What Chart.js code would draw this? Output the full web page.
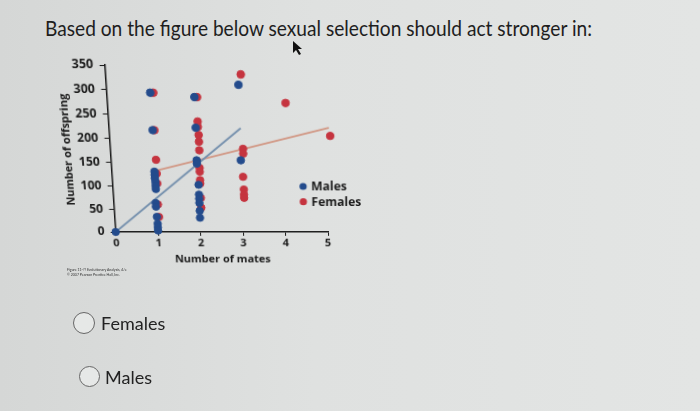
<!DOCTYPE html>
<html>
<head>
<meta charset="utf-8">
<script src="https://cdn.jsdelivr.net/npm/chart.js@4"></script>
<style>
  html, body { margin: 0; padding: 0; }
  body {
    width: 700px; height: 411px; overflow: hidden; position: relative;
    background: linear-gradient(90deg, #d5d7d6 0%, #dfe1e0 45%, #e3e5e4 100%);
    font-family: Lato, "Open Sans", sans-serif;
  }
  #question {
    position: absolute; left: 45px; top: 14px; font-size: 22px; color: #1e1e1e;
    white-space: nowrap; transform-origin: 0 0; transform: scaleX(0.87);
  }
  #matesChart { position: absolute; left: 40px; top: 50px; transform-origin: 0 0; }
  .caption { position: absolute; left: 67px; font-size: 3.5px; color: #333; white-space: nowrap; }
  .opt { position: absolute; font-size: 18px; color: #222; }
  .radio {
    position: absolute; border: 1.5px solid #666; border-radius: 50%;
    background: #e6e8e7; box-sizing: border-box;
  }
</style>
</head>
<body>
<div id="question">Based on the figure below sexual selection should act stronger in:</div>
<svg style="position:absolute;left:291px;top:40px" width="14" height="16">
  <polygon points="2,1 2,13 5,10 8,15 10,14 7,9 11,9" fill="#111"/>
</svg>
<canvas id="matesChart" width="330" height="222"></canvas>
<div class="caption" style="top:268px">Figure 11-?? Evolutionary Analysis, 4/e</div>
<div class="caption" style="top:273px">© 2007 Pearson Prentice Hall, Inc.</div>

<div class="radio" style="left:73px;top:312px;width:22px;height:22px"></div>
<div class="opt" style="left:101px;top:312px">Females</div>
<div class="radio" style="left:79px;top:366px;width:21px;height:21px"></div>
<div class="opt" style="left:105px;top:366px">Males</div>

<script>
// 데이터
const mateTicks = [0, 1, 2, 3, 4, 5];
const offspringTicks = [0, 50, 100, 150, 200, 250, 300, 350];

const maleMates = [0, 0.99, 1.0, 0.99, 0.99, 0.99, 1.0, 1.0, 1.0, 0.98, 0.98, 0.99, 1.0, 1.0, 1.0,
  1.99, 1.99, 1.98, 1.98, 2.0, 2.0, 2.0, 2.0, 2.0, 2.0, 3.0, 3.0];
const maleOffspring = [0, 294, 217, 130, 123, 116, 108, 100, 93, 63, 55, 33, 18, 10, 3,
  285, 222, 154, 147, 102, 81, 72, 63, 46, 31, 310, 154];

const femaleMates = [1.06, 1.04, 1.04, 1.04, 1.04, 1.03, 1.04,
  2.05, 2.04, 2.04, 2.05, 2.05, 2.05, 2.04, 2.04, 2.04, 2.04, 2.04, 2.04,
  3.06, 3.06, 3.06, 3.04, 3.05, 3.05, 3.05, 4.06, 5.07];
const femaleOffspring = [294, 217, 155, 126, 105, 60, 33,
  285, 235, 224, 207, 193, 175, 138, 130, 112, 105, 74, 53,
  331, 178, 168, 119, 92, 81, 74, 273, 205];

const maleFitX = [0, 3.02];
const maleFitY = [0, 221];
const femaleFitX = [1.06, 5.04];
const femaleFitY = [133, 222];

const legendLabels = ['Males', 'Females'];

const blue = '#234b8c';
const red = '#c5343f';
const ink = '#1b1b1b';
const boldFont = (size) => ({ family: '"Open Sans", sans-serif', size: size, weight: 'bold' });

function toPoints(xs, ys) {
  return xs.map((x, i) => ({ x: x, y: ys[i] }));
}

// 차트 안 범례 (값 좌표 기준)
const innerLegend = {
  id: 'innerLegend',
  afterDatasetsDraw(chart) {
    const ctx = chart.ctx;
    const xs = chart.scales.x, ys = chart.scales.y;
    const spots = [[4.43, 98.5], [4.43, 65.6]];
    const colors = [blue, red];
    ctx.save();
    ctx.font = 'bold 12px "Open Sans", sans-serif';
    ctx.textBaseline = 'middle';
    legendLabels.forEach((label, i) => {
      const x = xs.getPixelForValue(spots[i][0]);
      const y = ys.getPixelForValue(spots[i][1]);
      ctx.fillStyle = colors[i];
      ctx.beginPath();
      ctx.arc(x, y, 3.6, 0, Math.PI * 2);
      ctx.fill();
      ctx.fillStyle = ink;
      ctx.fillText(label, x + 8, y + 0.5);
    });
    ctx.restore();
  }
};

const chart = new Chart(document.getElementById('matesChart'), {
  type: 'scatter',
  data: {
    datasets: [
      {
        type: 'line',
        data: toPoints(maleFitX, maleFitY),
        borderColor: '#7590ad',
        borderWidth: 1.8,
        pointRadius: 0,
        fill: false,
        clip: false,
        order: 3
      },
      {
        type: 'line',
        data: toPoints(femaleFitX, femaleFitY),
        borderColor: '#d19784',
        borderWidth: 1.8,
        pointRadius: 0,
        fill: false,
        clip: false,
        order: 3
      },
      {
        label: legendLabels[1],
        data: toPoints(femaleMates, femaleOffspring),
        backgroundColor: red,
        borderColor: red,
        pointRadius: 3.7,
        clip: false,
        order: 2
      },
      {
        label: legendLabels[0],
        data: toPoints(maleMates, maleOffspring),
        backgroundColor: blue,
        borderColor: blue,
        pointRadius: 3.7,
        clip: false,
        order: 1
      }
    ]
  },
  options: {
    responsive: false,
    animation: false,
    layout: { padding: { top: 15, right: 42, left: 0, bottom: 1 } },
    plugins: {
      legend: { display: false },
      tooltip: { enabled: false }
    },
    scales: {
      x: {
        type: 'linear',
        min: 0,
        max: 5,
        afterBuildTicks: (scale) => { scale.ticks = mateTicks.map(v => ({ value: v })); },
        afterFit: (scale) => { scale.height = 39; },
        border: { display: true, color: ink, width: 1.5 },
        grid: { drawOnChartArea: false, drawTicks: true, tickLength: 4, color: ink },
        ticks: { color: ink, font: boldFont(11), padding: 1, maxRotation: 0 },
        title: {
          display: true,
          text: 'Number of mates',
          color: ink,
          font: boldFont(11),
          padding: { top: 4 }
        }
      },
      y: {
        min: 0,
        max: 350,
        afterBuildTicks: (scale) => { scale.ticks = offspringTicks.map(v => ({ value: v })); },
        afterFit: (scale) => { scale.width = 75.7; },
        border: { display: true, color: ink, width: 1.5 },
        grid: { drawOnChartArea: false, drawTicks: true, tickLength: 5, color: ink },
        ticks: { color: ink, font: boldFont(12), padding: 6 },
        title: {
          display: true,
          text: 'Number of offspring',
          color: ink,
          font: boldFont(11),
          padding: { top: 27 }
        }
      }
    }
  },
  plugins: [innerLegend]
});

// 사진처럼 비스듬하게 (직사각형 -> 사각형 투영)
function squareToQuad(q) {
  const [x0, y0] = q[0], [x1, y1] = q[1], [x2, y2] = q[2], [x3, y3] = q[3];
  const sx = x0 - x1 + x2 - x3, sy = y0 - y1 + y2 - y3;
  const dx1 = x1 - x2, dx2 = x3 - x2, dy1 = y1 - y2, dy2 = y3 - y2;
  const det = dx1 * dy2 - dx2 * dy1;
  const g = (sx * dy2 - dx2 * sy) / det;
  const h = (dx1 * sy - sx * dy1) / det;
  return [
    [x1 - x0 + g * x1, x3 - x0 + h * x3, x0],
    [y1 - y0 + g * y1, y3 - y0 + h * y3, y0],
    [g, h, 1]
  ];
}

const area = chart.chartArea;
const quad = [
  [area.left - 10.9, area.top],
  [area.right - 1.5, area.top],
  [area.right, area.bottom],
  [area.left, area.bottom]
];
const S = squareToQuad(quad);
const w = area.right - area.left, hh = area.bottom - area.top;
const H = S.map(r => [r[0] / w, r[1] / hh, -r[0] * area.left / w - r[1] * area.top / hh + r[2]]);
document.getElementById('matesChart').style.transform =
  'matrix3d(' + [H[0][0], H[1][0], 0, H[2][0], H[0][1], H[1][1], 0, H[2][1], 0, 0, 1, 0, H[0][2], H[1][2], 0, H[2][2]].join(',') + ')';
</script>
</body>
</html>
